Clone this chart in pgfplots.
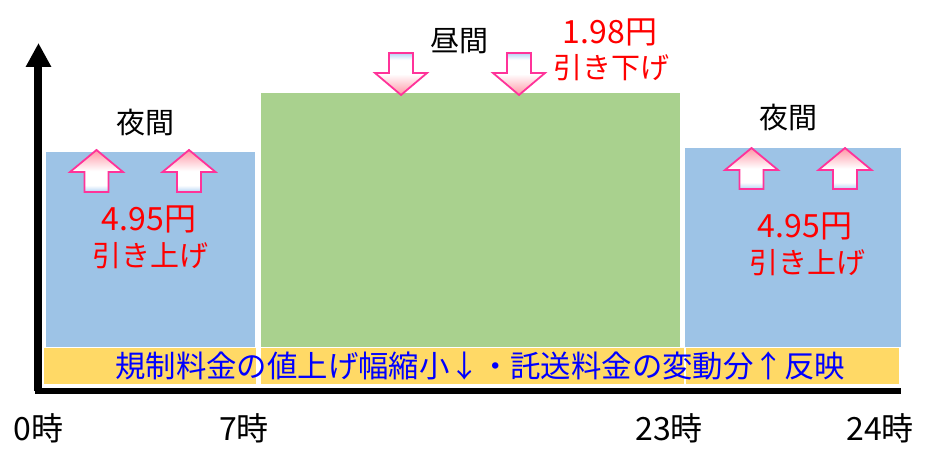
\documentclass[border=0pt]{standalone}
\usepackage{fontspec}
\setmainfont{Noto Sans CJK JP}
\usepackage{pgfplots}
\pgfplotsset{compat=1.18}
\usetikzlibrary{arrows.meta}
\definecolor{nightblue}{RGB}{157,195,230}
\definecolor{daygreen}{RGB}{169,209,142}
\definecolor{bandyellow}{RGB}{255,217,102}
\definecolor{arrowpink}{RGB}{255,150,165}
\definecolor{arrowblue}{RGB}{180,212,245}
\definecolor{arrowedge}{RGB}{255,51,153}
\definecolor{bandtext}{RGB}{0,0,255}
\pgfdeclareverticalshading{uparrowshade}{100bp}{color(0bp)=(arrowblue); color(25bp)=(arrowblue); color(33bp)=(white); color(50bp)=(white); color(75bp)=(arrowpink); color(100bp)=(arrowpink)}
\pgfdeclareverticalshading{downarrowshade}{100bp}{color(0bp)=(arrowpink); color(25bp)=(arrowpink); color(50bp)=(white); color(67bp)=(white); color(75bp)=(arrowblue); color(100bp)=(arrowblue)}
\newcommand{\fs}[1]{\fontsize{#1bp}{#1bp}\selectfont}
\begin{document}
\begin{tikzpicture}
\begin{axis}[
  scale only axis,
  width=859.5bp, height=348bp,
  xmin=38.5, xmax=898, ymin=0, ymax=348,
  clip=false,
  axis x line=bottom, axis y line=left,
  x axis line style={-, line width=6.5bp, line cap=rect},
  y axis line style={-{Triangle[width=24bp,length=24bp]}, line width=8bp},
  ytick=\empty,
  xtick={38.5,244,669,880},
  xticklabels={0時\hspace{9bp},7時,23時,24時},
  major tick length=0pt,
  xticklabel style={anchor=base, yshift=-49bp, font=\fs{32}},
]
% blocks (pixel-based layout)
\addplot[draw=white, line width=1bp, fill=nightblue] coordinates {(46,43) (255,43) (255,239) (46,239)} -- cycle;
\addplot[draw=white, line width=1bp, fill=daygreen] coordinates {(260,43) (680,43) (680,298) (260,298)} -- cycle;
\addplot[draw=white, line width=1bp, fill=nightblue] coordinates {(684,43) (901,43) (901,243) (684,243)} -- cycle;
% yellow band
\addplot[draw=white, line width=1bp, fill=bandyellow] coordinates {(44,6) (256,6) (256,43) (44,43)} -- cycle;
\addplot[draw=white, line width=1bp, fill=bandyellow] coordinates {(260,6) (684,6) (684,43) (260,43)} -- cycle;
\addplot[draw=white, line width=1bp, fill=bandyellow] coordinates {(685,6) (899,6) (899,43) (685,43)} -- cycle;
% up arrows left
\addplot[draw=arrowedge, line width=1.8bp, shading=uparrowshade] coordinates {(96.5,241) (123,219) (108.5,219) (108.5,199) (84.5,199) (84.5,219) (70,219)} -- cycle;
\addplot[draw=arrowedge, line width=1.8bp, shading=uparrowshade] coordinates {(189,241) (215.5,219) (201,219) (201,199) (177,199) (177,219) (162.5,219)} -- cycle;
% up arrows right
\addplot[draw=arrowedge, line width=1.8bp, shading=uparrowshade] coordinates {(751.5,243) (778,221) (763.5,221) (763.5,202) (739.5,202) (739.5,221) (725,221)} -- cycle;
\addplot[draw=arrowedge, line width=1.8bp, shading=uparrowshade] coordinates {(845,243) (871.5,221) (857,221) (857,202) (833,202) (833,221) (818.5,221)} -- cycle;
% down arrows
\addplot[draw=arrowedge, line width=1.8bp, shading=downarrowshade] coordinates {(401,296) (427,318) (413,318) (413,338) (389,338) (389,318) (375,318)} -- cycle;
\addplot[draw=arrowedge, line width=1.8bp, shading=downarrowshade] coordinates {(519,296) (545,318) (531,318) (531,338) (507,338) (507,318) (493,318)} -- cycle;
% texts
\node[font=\fs{29}] at (axis cs:145.5,268.5) {夜間};
\node[font=\fs{29}] at (axis cs:788,274) {夜間};
\node[font=\fs{29}] at (axis cs:459,350) {昼間};
\node[font=\fs{32}, text=red] at (axis cs:610,358.5) {1.98円};
\node[font=\fs{29}, text=red] at (axis cs:611,323) {引き下げ};
\node[font=\fs{32}, text=red] at (axis cs:149,172) {4.95円};
\node[font=\fs{29}, text=red] at (axis cs:150,135) {引き上げ};
\node[font=\fs{32}, text=red] at (axis cs:805,165) {4.95円};
\node[font=\fs{29}, text=red] at (axis cs:807,128) {引き上げ};
\node[font=\fs{30.4}, text=bandtext] at (axis cs:480,25) {規制料金の値上げ幅縮小↓・託送料金の変動分↑反映};
% page extent
\path (axis cs:0,391) (axis cs:926,-64);
\end{axis}
\end{tikzpicture}
\end{document}
